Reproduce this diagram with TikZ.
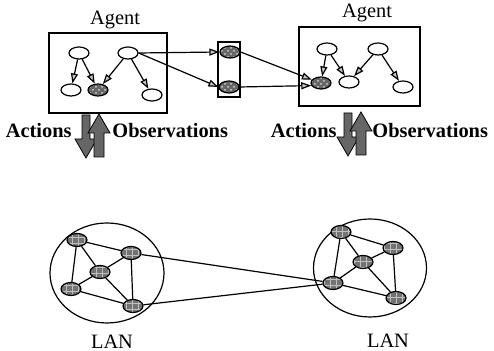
\documentclass[tikz,border=0pt]{standalone}
\usepackage{fontspec}
\setmainfont{Liberation Serif}
\usetikzlibrary{shapes.geometric,arrows.meta,patterns}

\tikzset{
  latent/.style={ellipse, draw, line width=0.6pt, minimum width=10pt, minimum height=6pt, inner sep=0pt},
  observed/.style={latent, preaction={fill=black!60}, pattern=crosshatch dots, pattern color=gray!35},
  hostnode/.style={latent, minimum height=6.5pt, preaction={fill=black!55}, pattern=grid, pattern color=white!75!black},
  agentbox/.style={draw, line width=0.6pt, inner sep=0pt},
  dep/.style={line width=0.6pt, -{Triangle[fill=gray!45, length=5pt, width=3.5pt]}},
  link/.style={line width=0.6pt},
  iolabel/.style={inner sep=0pt, font=\fontsize{10.2}{12}\selectfont\bfseries},
  bigarrow/.style={draw=black, fill=black!60, line width=0.4pt},
  actobs/.pic={
    \draw[bigarrow] (-4,-21) -- (4,-21) -- (4,3) -- (11,3) -- (0,22) -- (-11,3) -- (-4,3) -- cycle;
    \draw[bigarrow] (13,-22) -- (24,-3) -- (18,-3) -- (18,21) -- (8,21) -- (8,-3) -- (2,-3) -- cycle;
  },
}

\begin{document}
\begin{tikzpicture}[x=0.5pt, y=-0.5pt, font=\fontsize{10.2}{12}\selectfont]
  \useasboundingbox (0,0) rectangle (494,351);
  % Left agent
  \node[agentbox, minimum width=59pt, minimum height=40pt] (agL) at (108,73) {};
  \node (agLtitle) at (115,20) {Agent};
  \node[latent] (a1) at (79,53) {};
  \node[latent] (a2) at (128,53) {};
  \node[latent] (a3) at (71,90) {};
  \node[observed] (a4) at (98,90) {};
  \node[latent] (a5) at (152,95) {};
  \draw[dep] (a1) -- (a3);
  \draw[dep] (a1) -- (a4);
  \draw[dep] (a2) -- (a4);
  \draw[dep] (a2) -- (a5);
  % Shared variables in between
  \node[agentbox, minimum width=11pt, minimum height=27.5pt] (msg) at (229,69.5) {};
  \node[observed] (mt) at (230,52) {};
  \node[observed] (mb) at (229,87) {};
  % Right agent
  \node[agentbox, minimum width=60.5pt, minimum height=39.5pt] (agR) at (359.5,66.5) {};
  \node (agRtitle) at (367,13) {Agent};
  \node[latent] (b1) at (327,49) {};
  \node[latent] (b2) at (378,49) {};
  \node[observed] (b3) at (321,83) {};
  \node[latent] (b4) at (349,82) {};
  \node[latent] (b5) at (403,87) {};
  \draw[dep] (b1) -- (b3);
  \draw[dep] (b1) -- (b4);
  \draw[dep] (b2) -- (b4);
  \draw[dep] (b2) -- (b5);
  % Links between the agents
  \draw[dep] (a2.east) -- (mt.west);
  \draw[dep] (a2.east) -- (mb.west);
  \draw[dep] (mt.east) -- (b3.160);
  \draw[dep] (mb.east) -- (b3.195);
  % Actions and observations
  \pic at (86,136) {actobs};
  \pic at (348,134) {actobs};
  \node[iolabel, anchor=east] (actL) at (72,131) {Actions};
  \node[iolabel, anchor=west] (obsL) at (112,131) {Observations};
  \node[iolabel, anchor=east] (actR) at (337,131) {Actions};
  \node[iolabel, anchor=west] (obsR) at (372,131) {Observations};
  % Left LAN
  \node[ellipse, draw, line width=0.6pt, minimum width=57pt, minimum height=50pt] (lanL) at (107,273) {};
  \node[hostnode] (n1) at (77,240) {};
  \node[hostnode] (n2) at (131,253) {};
  \node[hostnode] (n3) at (100,272) {};
  \node[hostnode] (n4) at (71,289) {};
  \node[hostnode] (n5) at (133,306) {};
  \node (lanLtitle) at (112,342) {LAN};
  % Right LAN
  \node[ellipse, draw, line width=0.6pt, minimum width=56.5pt, minimum height=49pt] (lanR) at (370,268) {};
  \node[hostnode] (m1) at (341,232) {};
  \node[hostnode] (m2) at (393,248) {};
  \node[hostnode] (m3) at (363,262) {};
  \node[hostnode] (m4) at (333,283) {};
  \node[hostnode] (m5) at (396,298) {};
  \node (lanRtitle) at (388,341) {LAN};
  \foreach \s/\t in {1/2,1/3,1/4,2/3,2/5,3/4,3/5,4/5} {
    \draw[link] (n\s) -- (n\t);
    \draw[link] (m\s) -- (m\t);
  }
  % Wide-area links
  \draw[link] (n2) -- (m4);
  \draw[link] (n5) -- (m4);
\end{tikzpicture}
\end{document}
